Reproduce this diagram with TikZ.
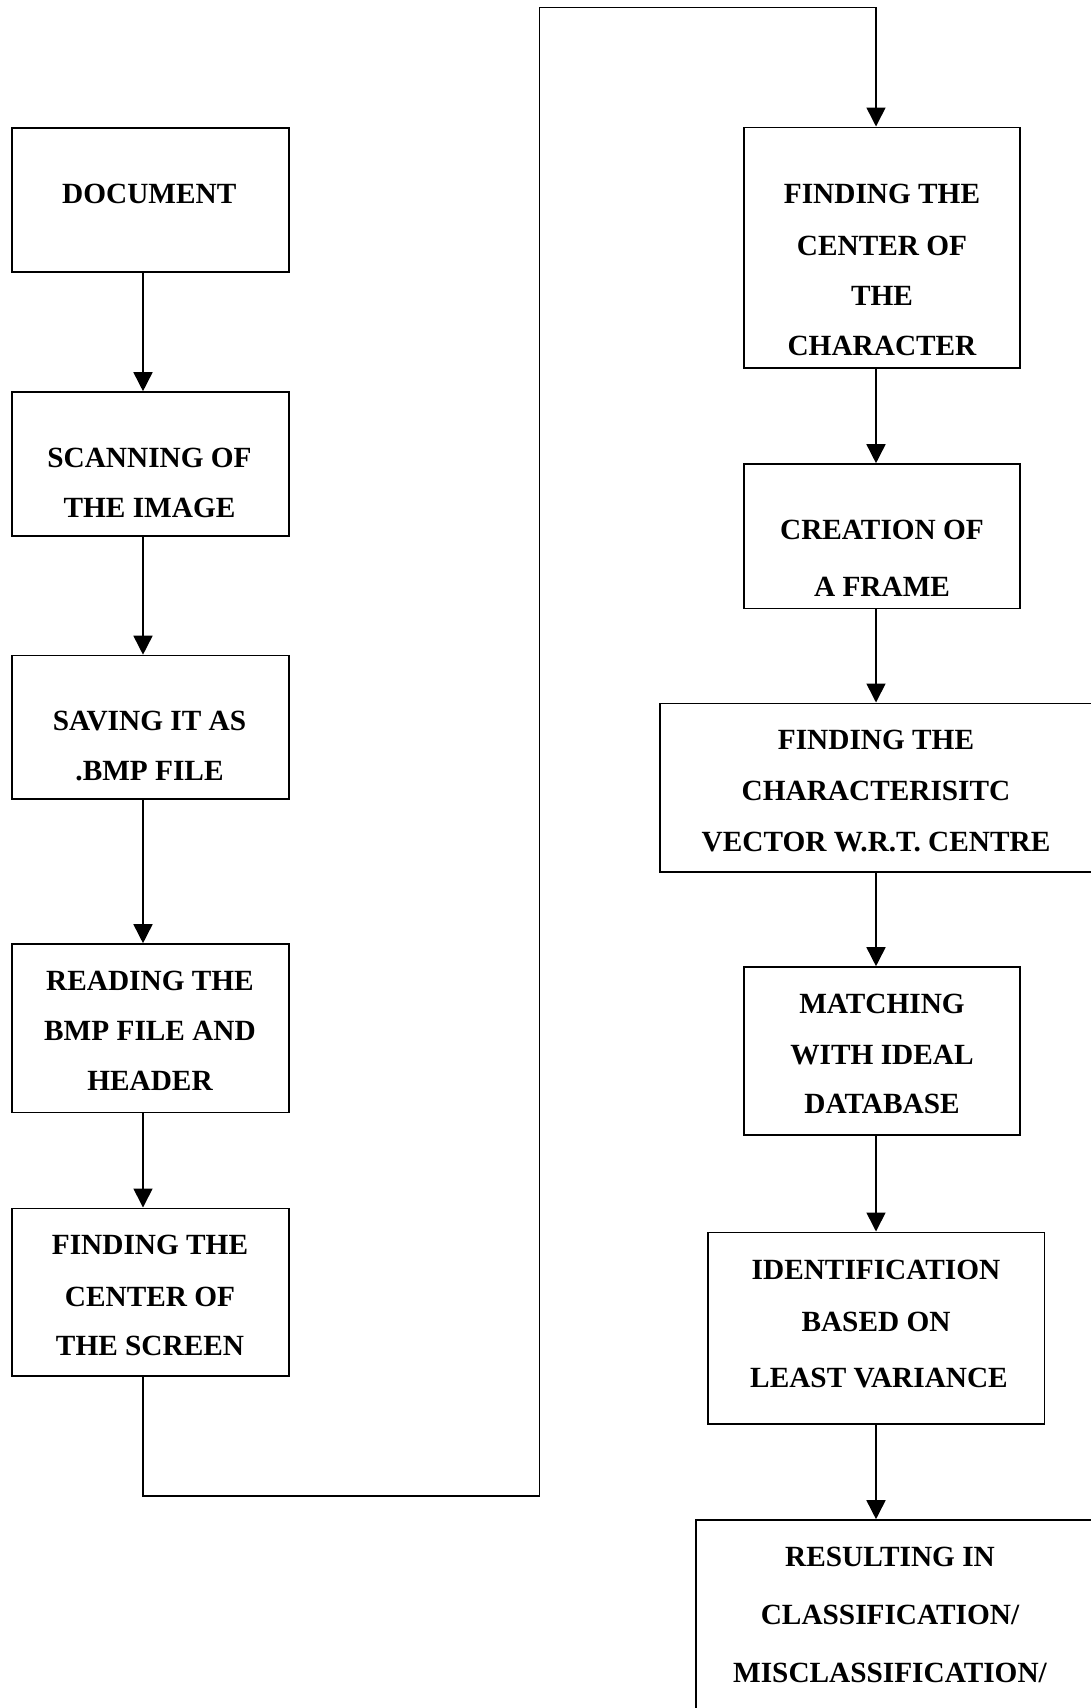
\documentclass[tikz,border=0pt]{standalone}
\usepackage{fontspec}
\setmainfont{Liberation Serif}
\usetikzlibrary{arrows.meta}
\tikzset{
  box/.style={draw, line width=1.6pt, rectangle, inner sep=0pt},
  lbl/.style={inner sep=0pt, text height=19.4pt, text depth=0pt, font=\bfseries\fontsize{29.3}{35}\selectfont},
  arr/.style={line width=1.6pt, -{Triangle[width=19pt,length=19pt]}},
  conn/.style={line width=1.6pt}
}
\begin{document}
\begin{tikzpicture}[x=1pt,y=-1pt]
\useasboundingbox (0,0) rectangle (1091,1708);
\clip (0,0) rectangle (1091,1708);
\fill[white] (0,0) rectangle (1091,1708);
% boxes, left column
\node[box, minimum width=277pt, minimum height=144.3pt] (L1) at (150.2,199.85) {};
\node[box, minimum width=277pt, minimum height=144pt] (L2) at (150.2,464) {};
\node[box, minimum width=277pt, minimum height=143.5pt] (L3) at (150.2,727.25) {};
\node[box, minimum width=277pt, minimum height=168.3pt] (L4) at (150.2,1028.15) {};
\node[box, minimum width=277pt, minimum height=167.7pt] (L5) at (150.2,1292.15) {};
% boxes, right column
\node[box, minimum width=276pt, minimum height=240.4pt] (R1) at (882,247.5) {};
\node[box, minimum width=276pt, minimum height=144.3pt] (R2) at (882,536.15) {};
\node[box, minimum width=440pt, minimum height=168.4pt] (R3) at (880,787.5) {};
\node[box, minimum width=276pt, minimum height=168pt] (R4) at (882,1051) {};
\node[box, minimum width=336.6pt, minimum height=191.7pt] (R5) at (876,1328.15) {};
\node[box, minimum width=404.3pt, minimum height=210pt] (R6) at (897.85,1625) {};
% texts
\node[lbl] (t1) at (149.3,194.2) {DOCUMENT};
\node[lbl] (t2a) at (149.5,457.3) {SCANNING OF};
\node[lbl] (t2b) at (149.5,507.4) {THE IMAGE};
\node[lbl] (t3a) at (149.5,720.8) {SAVING IT AS};
\node[lbl] (t3b) at (149.5,770.9) {.BMP FILE};
\node[lbl] (t4a) at (150,980.8) {READING THE};
\node[lbl] (t4b) at (150,1030.8) {BMP FILE AND};
\node[lbl] (t4c) at (150,1080.8) {HEADER};
\node[lbl] (t5a) at (150,1245) {FINDING THE};
\node[lbl] (t5b) at (150,1296.7) {CENTER OF};
\node[lbl] (t5c) at (150,1345.8) {THE SCREEN};
\node[lbl] (r1a) at (882,194) {FINDING THE};
\node[lbl] (r1b) at (882,245.8) {CENTER OF};
\node[lbl] (r1c) at (882,295.3) {THE};
\node[lbl] (r1d) at (882,345.8) {CHARACTER};
\node[lbl] (r2a) at (882,530) {CREATION OF};
\node[lbl] (r2b) at (882,586.7) {A FRAME};
\node[lbl] (r3a) at (876,739.3) {FINDING THE};
\node[lbl] (r3b) at (876,790.5) {CHARACTERISITC};
\node[lbl] (r3c) at (876,841.6) {VECTOR W.R.T. CENTRE};
\node[lbl] (r4a) at (882,1003.9) {MATCHING};
\node[lbl] (r4b) at (882,1055) {WITH IDEAL};
\node[lbl] (r4c) at (882,1104) {DATABASE};
\node[lbl] (r5a) at (876,1269.7) {IDENTIFICATION};
\node[lbl] (r5b) at (876,1321.7) {BASED ON};
\node[lbl] (r5c) at (879,1378) {LEAST VARIANCE};
\node[lbl] (r6a) at (890,1557) {RESULTING IN};
\node[lbl] (r6b) at (890,1614.7) {CLASSIFICATION/};
\node[lbl] (r6c) at (890,1672.4) {MISCLASSIFICATION/};
% connector guide coordinates
\coordinate (lx) at (143,0);
\coordinate (rx) at (876,0);
\coordinate (c1) at (143,1495.7);
\coordinate (c2) at (539.3,1495.7);
\coordinate (c3) at (539.3,7.5);
\coordinate (c4) at (876,7.5);
% arrows left
\draw[arr] (lx |- L1.south) -- (lx |- L2.north);
\draw[arr] (lx |- L2.south) -- (lx |- L3.north);
\draw[arr] (lx |- L3.south) -- (lx |- L4.north);
\draw[arr] (lx |- L4.south) -- (lx |- L5.north);
% long connector
\draw[arr] (lx |- L5.south) -- (c1) -- (c2) -- (c3) -- (c4) -- (rx |- R1.north);
% arrows right
\draw[arr] (rx |- R1.south) -- (rx |- R2.north);
\draw[arr] (rx |- R2.south) -- (rx |- R3.north);
\draw[arr] (rx |- R3.south) -- (rx |- R4.north);
\draw[arr] (rx |- R4.south) -- (rx |- R5.north);
\draw[arr] (rx |- R5.south) -- (rx |- R6.north);
\end{tikzpicture}
\end{document}
